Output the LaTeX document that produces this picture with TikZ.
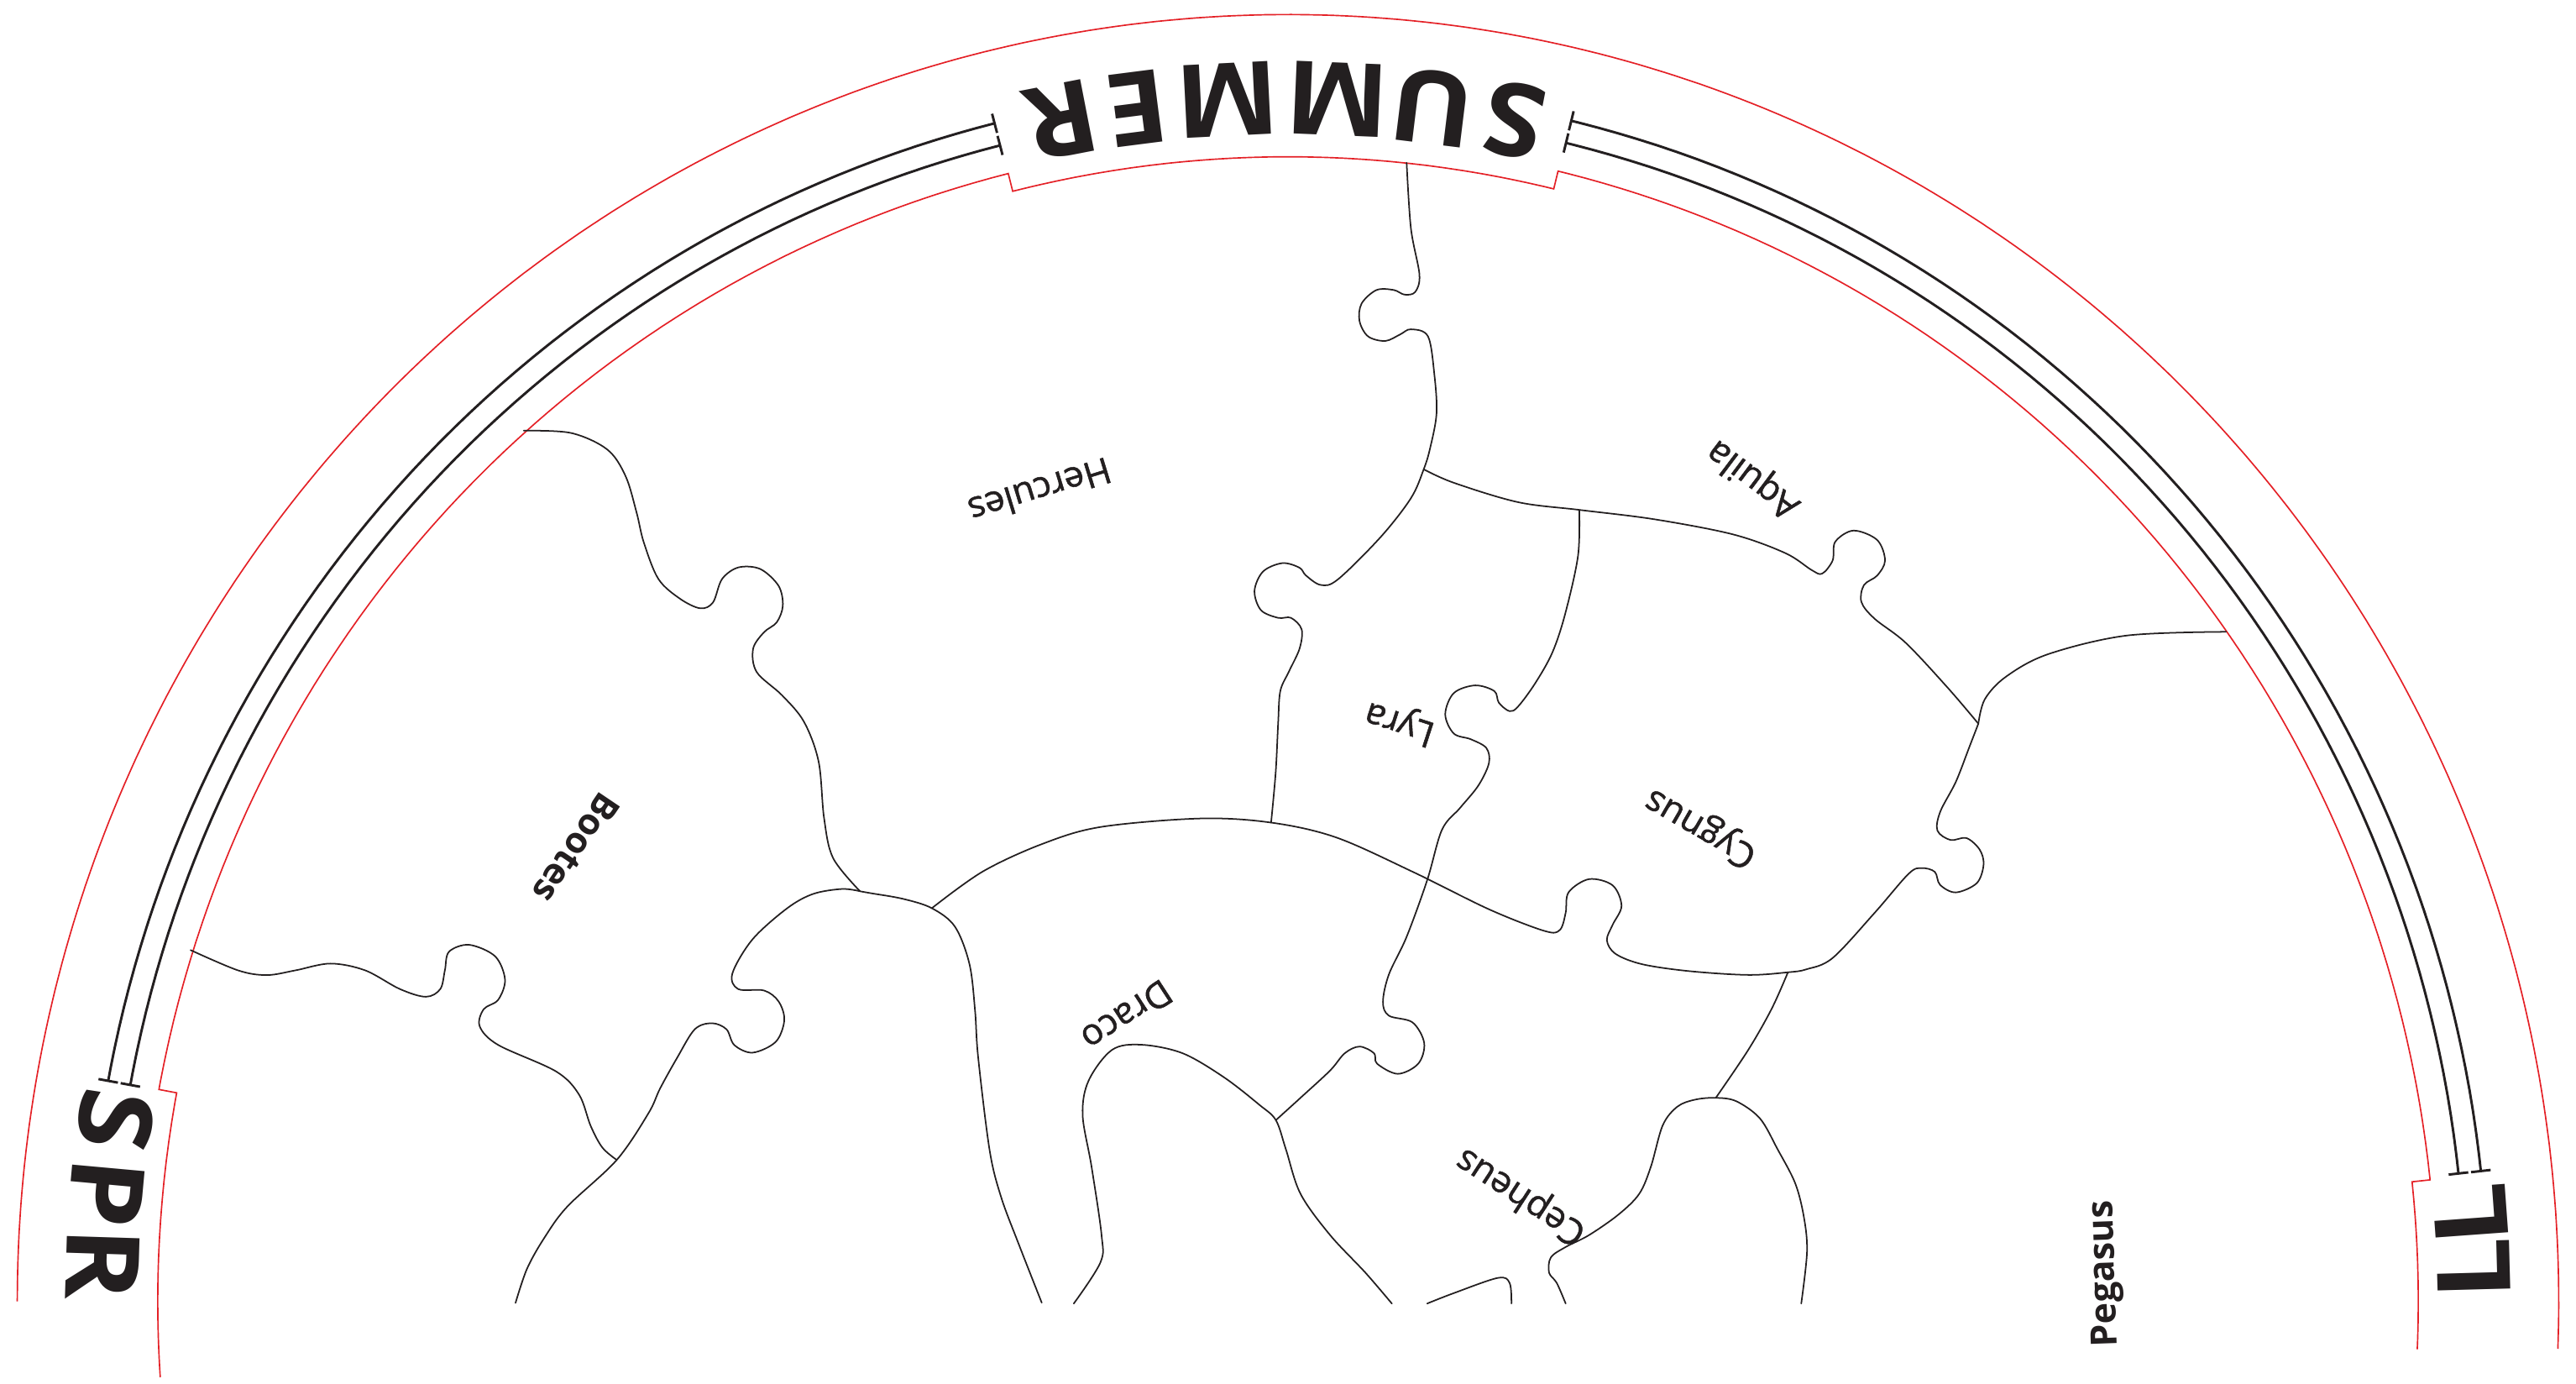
\documentclass[tikz,border=0pt]{standalone}
\usepackage{fontspec}
\usetikzlibrary{arrows.meta}
\newfontfamily\labfont{Open Sans}[FakeBold=1.2]
\newfontfamily\labbfont{Open Sans}
\newfontfamily\seasfont{Open Sans}[FakeStretch=1.08]
\definecolor{redl}{RGB}{228,32,38}
\definecolor{ink}{RGB}{35,31,32}
\tikzset{
  pz/.style={draw=ink, line width=0.9pt, line cap=round, line join=round},
  redline/.style={draw=redl, line width=0.85pt, line join=miter},
  blk/.style={draw=ink, line width=1.5pt, {Bar[width=12pt,line width=1.5pt]}-{Bar[width=12pt,line width=1.5pt]}},
  lab/.style={font=\labfont\fontsize{22}{22}\selectfont, text=ink, inner sep=0pt},
  labb/.style={font=\labbfont\bfseries\fontsize{22}{22}\selectfont, text=ink, inner sep=0pt},
  seas/.style={font=\seasfont\bfseries\fontsize{62}{62}\selectfont, text=ink, inner sep=0pt}
}
\begin{document}
\begin{tikzpicture}[x=1pt,y=-1pt]
\useasboundingbox (0,0) rectangle (1568,842);
% outer red arc
\draw[redline] plot[domain=180:-2.12, samples=300] ({784+773.5*cos(\x)},{792-1.0125*773.5*sin(\x)});
% inner red arc with notches
\draw[redline]
  plot[domain=-2.4:6.0, samples=20] ({784+688*cos(\x)},{792-1.0125*688*sin(\x)})
  -- plot[domain=6.0:76.4, samples=150] ({784+699*cos(\x)},{792-1.0125*699*sin(\x)})
  -- plot[domain=76.4:104.1, samples=60] ({784+688*cos(\x)},{792-1.0125*688*sin(\x)})
  -- plot[domain=104.1:169.5, samples=150] ({784+699*cos(\x)},{792-1.0125*699*sin(\x)})
  -- plot[domain=169.5:183.8, samples=30] ({784+688*cos(\x)},{792-1.0125*688*sin(\x)});
% black double lines
\draw[blk] plot[domain=104.1:169.6, samples=200] ({784+730.3*cos(\x)},{792-1.0125*730.3*sin(\x)});
\draw[blk] plot[domain=104.1:169.6, samples=200] ({784+716.6*cos(\x)},{792-1.0125*716.6*sin(\x)});
\draw[blk] plot[domain=76.4:6.1, samples=200] ({784+730.3*cos(\x)},{792-1.0125*730.3*sin(\x)});
\draw[blk] plot[domain=76.4:6.1, samples=200] ({784+716.6*cos(\x)},{792-1.0125*716.6*sin(\x)});
% season letters
\foreach \ch/\ang [count=\i, evaluate=\ang as \rr using \ang+90] in {R/101.0, E/97.3, M/92.9, M/87.6, U/83.0, S/79.0}
  \node[seas, rotate=\rr] (sum\i) at ({784+723*cos(\ang)},{792-1.0125*723*sin(\ang)}) {\ch};
\foreach \ch/\ang [count=\i, evaluate=\ang as \rr using \ang+90] in {S/171.3, P/174.8, R/178.2}
  \node[seas, rotate=\rr] (spr\i) at ({784+722*cos(\ang)},{792-1.0125*722*sin(\ang)}) {\ch};
\foreach \ch/\ang [count=\i, evaluate=\ang as \rr using \ang+90] in {L/4.18, L/1.55}
  \node[seas, rotate=\rr] (fal\i) at ({784+722*cos(\ang)},{792-1.0125*722*sin(\ang)}) {\ch};
% junctions
\coordinate (J1) at (523.5,542.4);
\coordinate (J2) at (567.2,552.7);
\coordinate (J4) at (866.6,285.6);
\coordinate (J5) at (961.3,310.3);
\coordinate (J6) at (1204.2,440.4);
% A: Hercules / Bootes
\draw[pz] plot[smooth, tension=0.55] coordinates {(318.8,262.1) (347.6,263.5) (369.7,273.6) (380.8,289.8) (387.5,312) (391.9,330.2) (400.8,352.4) (414.1,364.5) (426.3,370.2) (434.0,366.6) (439.5,352.4) (449.5,345.3) (462.8,346.3) (473.9,356.5) (476.5,368.6) (472.8,378.7) (465.0,384.8) (458.4,394.9) (460.6,409.0) (476.1,423.2) (489.4,439.3) (498.3,463.6) (501.6,497.9) (507.1,522.2) (523.5,542.4)};
% B: blob left
\draw[pz] plot[smooth, tension=0.55] coordinates {(523.5,542.4) (512.6,541) (495,544) (479.2,552.7) (458.1,571.6) (445.8,592.4) (449.3,601.9) (465.1,602.8) (473.9,609.4) (477.4,620.8) (472.2,634) (458.1,640.6) (447,636) (442.2,626.4) (433.4,622.7) (422.9,626.4) (412.3,643.5) (401.8,662.4) (394.7,677.5) (375.4,705.9) (345.4,734.2) (331.4,753.2) (320.8,772.1) (313.8,792.9)};
% C: blob right
\draw[pz] plot[smooth, tension=0.55] coordinates {(523.5,542.4) (530.2,543.6) (549.6,547) (567.2,552.7) (581.3,564) (590.1,586.7) (593.5,615) (595.4,643.5) (602.4,700.2) (609.4,728.6) (620,756.9) (634.1,792.8)};
% D: big arc from J2 to J6
\draw[pz] plot[smooth, tension=0.55] coordinates {(567.2,552.7) (598,530.5) (633.9,513.8) (669.8,503.3) (730.7,498.1) (773.7,500.6) (813.2,509.6) (859.8,530.5) (906.4,553.4) (940,566.5) (949.4,566) (953,555.5) (954.8,543) (967.3,535) (981.6,538.8) (987,551.3) (981.6,562.8) (978.1,572.2) (983.4,580.5) (999.6,586.8) (1028.2,591) (1064.1,593.3) (1088.3,591.7) (1099.5,589.9) (1115.5,583) (1141,555.6) (1161.8,531.7) (1169.8,528.3) (1177.7,530.6) (1180.9,538.5) (1190.5,543.1) (1203.3,537.4) (1207.4,526) (1204.9,516.9) (1196.9,510) (1187.3,511.2) (1179.3,505.5) (1181,494) (1190.5,475.8) (1198.5,455.2) (1204.2,440.4)};
% E: J6 to red
\draw[pz] plot[smooth, tension=0.55] coordinates {(1204.2,440.4) (1208.1,425.6) (1220.9,411.9) (1246.4,398.2) (1294.3,386.8) (1355,384.5)};
% F: Aquila / Cygnus
\draw[pz] plot[smooth, tension=0.55] coordinates {(1204.2,440.4) (1185.7,418.7) (1160.2,391.4) (1141,376.5) (1133,366.3) (1134.6,356) (1142.6,350.3) (1147.4,341.1) (1142.6,328.6) (1128.2,322.9) (1117.1,329.7) (1115.5,341.1) (1109.1,349.1) (1102.7,346.9) (1086.7,336.6) (1054.8,325.2) (1006.9,316) (961.3,310.3) (924,305.6) (884.9,293.8) (866.6,285.6)};
% G: top line down to Lyra left
\draw[pz] plot[smooth, tension=0.55] coordinates {(856.2,99) (858.8,138.9) (864,167.1) (861.4,177.7) (854.9,179.3) (848.4,176.5) (837.9,176.5) (828.8,184.7) (827.5,195.3) (832.7,204.7) (843.2,207.5) (852.3,203.5) (858.8,200.4) (869.2,204.7) (873.1,228.1) (874.4,251.6) (870.5,272.7) (866.6,285.6) (858.8,303.2) (840.5,326.7) (814.5,352.5) (804,356) (794.9,350.2) (791,345.5) (780.6,342.7) (768.8,347.8) (763.6,359.6) (767.5,371.3) (778,376) (785.8,376) (792.3,383) (791,394.8) (784.5,408.8) (779.3,420.6) (778,440) (776.5,470) (773.7,500.6)};
% H: Lyra / Cygnus down to J8
\draw[pz] plot[smooth, tension=0.55] coordinates {(961.3,310.3) (960.5,338.4) (952.7,373.6) (944.9,397.1) (934.4,415.9) (924,430) (918.8,432.8) (912.3,427.6) (909.6,420.6) (897.9,417.1) (884.9,421.8) (879.7,434.7) (884.9,446.4) (895.3,449.9) (904.7,455.2) (906.3,464.4) (899.9,478) (888.7,491.7) (877.7,505) (868.7,535.7) (856.2,570.1) (845.4,593) (841.8,609.7) (845.4,618.1) (859.8,622.2) (866.9,634.8) (863.3,647.3) (850.8,653.5) (838.2,647.3) (836.4,641) (827.5,636.9) (818.5,641) (809.6,651.5) (791.6,668.1) (776.6,681.7)};
% I: Draco inner
\draw[pz] plot[smooth, tension=0.55] coordinates {(653.6,793.3) (669.8,768.3) (670.5,751.6) (664.4,709.9) (659,678.6) (662.6,657.7) (676.9,638.9) (694.8,635.8) (719.9,641) (745,655.6) (766.5,672.3) (776.6,681.7) (782.7,699.4) (791.6,726.5) (809.6,751.6) (831.1,774.5) (847.2,793.3)};
% J: Cepheus right line
\draw[pz] plot[smooth, tension=0.55] coordinates {(1088.3,591.7) (1078.4,613.9) (1064.1,639) (1044.4,668.1)};
% K: Cepheus blob
\draw[pz] plot[smooth, tension=0.55] coordinates {(953,793.3) (947.6,780.8) (942.9,774.5) (944,765.2) (953,758.9) (967.3,751.6) (985.2,739.1) (997.8,726.5) (1004.9,709.9) (1012.1,684.8) (1021.1,673.4) (1031.8,669.2) (1044.4,668.1) (1056.9,670.2) (1071.3,680.7) (1082,699.4) (1092.8,720.3) (1098.1,741.2) (1099.9,762) (1096.4,793.3)};
% L: small arc at bottom
\draw[pz] plot[smooth, tension=0.55] coordinates {(868.7,793.3) (884.8,787) (911.7,777.7) (918.9,780.8) (920,793.3)};
% M: Bootes bottom
\draw[pz] plot[smooth, tension=0.55] coordinates {(116,578.2) (144.8,590.5) (162.4,593.4) (180,590.5) (201.1,586.4) (222.2,590.5) (243.4,601.9) (259.2,606.6) (268,601.9) (270.8,590.5) (273.3,579.2) (285.6,575) (301.4,582) (307.4,596.2) (303.2,608.5) (294.4,614.2) (292,624.6) (303.2,635.9) (338.4,652) (352.5,666.2) (359.5,685.1) (366.6,698.3) (375.4,705.9)};
% labels
\node[lab, rotate=197] (hercules) at (633,299) {Hercules};
\node[lab, rotate=143] (aquila) at (1067.5,291) {Aquila};
\node[lab, rotate=162] (lyra) at (852.3,439) {Lyra};
\node[lab, rotate=150] (cygnus) at (1035.6,503.2) {Cygnus};
\node[labb, rotate=236] (bootes) at (350.9,516.1) {Bootes};
\node[lab, rotate=213] (draco) at (685.9,618.1) {Draco};
\node[lab, rotate=147] (cepheus) at (926.1,727.6) {Cepheus};
\node[labb, rotate=92] (pegasus) at (1282,775.2) {Pegasus};
\end{tikzpicture}
\end{document}
